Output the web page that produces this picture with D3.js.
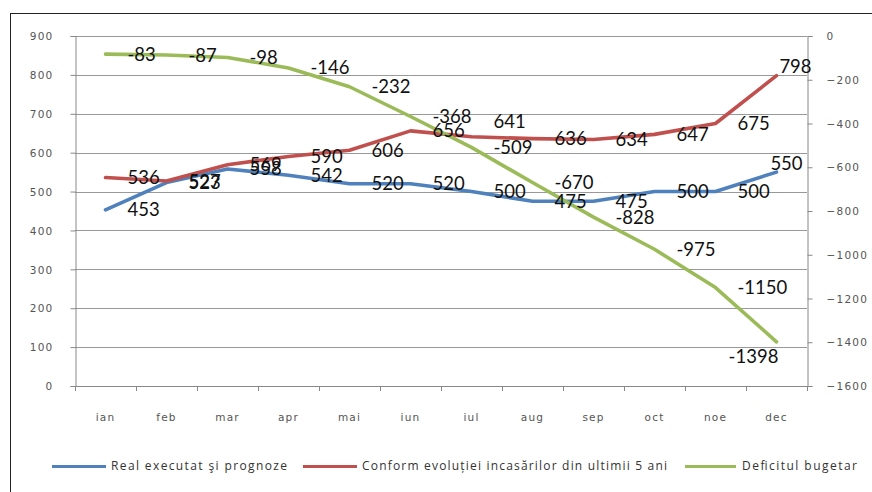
<!DOCTYPE html>
<html><head><meta charset="utf-8">
<script src="https://cdn.jsdelivr.net/npm/d3@7"></script>
<style>
html,body{margin:0;padding:0;background:#fff;}
svg{display:block;}
</style>
</head><body>
<svg id="chart" width="872" height="492"></svg>
<script>
const months = ["ian","feb","mar","apr","mai","iun","iul","aug","sep","oct","noe","dec"];
const realExecutat = [453,523,558,542,520,520,500,475,475,500,500,550];
const conformEvolutiei = [536,527,569,590,606,656,641,636,634,647,675,798];
const deficitBugetar = [-83,-87,-98,-146,-232,-368,-509,-670,-828,-975,-1150,-1398];
const leftTicks = [0,100,200,300,400,500,600,700,800,900];
const rightTicks = [0,-200,-400,-600,-800,-1000,-1200,-1400,-1600];
const seriesNames = ["Real executat şi prognoze","Conform evoluției incasărilor din ultimii 5 ani","Deficitul bugetar"];

const colors = ["#4F81BD","#C0504D","#9BBB59"];
const svg = d3.select("#chart");
const L = 75, R = 807, T = 36, B = 386;

svg.append("rect").attr("width",872).attr("height",492).attr("fill","#fff");
// outer frame
svg.append("line").attr("x1",10).attr("x2",872).attr("y1",13.5).attr("y2",13.5).attr("stroke","#222");
svg.append("line").attr("x1",10.5).attr("x2",10.5).attr("y1",13).attr("y2",492).attr("stroke","#222");

const x = d3.scaleBand().domain(months).range([L,R]).padding(0);
const cx = m => x(m) + x.bandwidth()/2;
const yL = d3.scaleLinear().domain([0,900]).range([B,T]);
const yR = d3.scaleLinear().domain([-1600,0]).range([B,T]);

// gridlines
svg.append("g").selectAll("line").data(leftTicks.filter(d=>d>0)).join("line")
  .attr("x1",L).attr("x2",R).attr("y1",d=>Math.round(yL(d))+0.5).attr("y2",d=>Math.round(yL(d))+0.5)
  .attr("stroke","#999").attr("stroke-width",1);

const tickFont = "DejaVu Sans, Verdana, sans-serif";
// left axis
const gl = svg.append("g").attr("transform",`translate(${L+0.5},0)`)
  .call(d3.axisLeft(yL).tickValues(leftTicks).tickSize(5).tickPadding(17).tickFormat(d3.format("d")));
// right axis
const gr = svg.append("g").attr("transform",`translate(${R+0.5},0)`)
  .call(d3.axisRight(yR).tickValues(rightTicks).tickSize(5).tickPadding(14).tickFormat(d3.format("d")));
// bottom axis
const gb = svg.append("g").attr("transform",`translate(0,${B+0.5})`)
  .call(d3.axisBottom(x).tickSize(0).tickPadding(27));
// boundary ticks for bottom axis
svg.append("g").selectAll("line").data(months.concat(["__end"])).join("line")
  .attr("x1",(d,i)=>Math.round(L + i*x.bandwidth())+0.5).attr("x2",(d,i)=>Math.round(L + i*x.bandwidth())+0.5)
  .attr("y1",B).attr("y2",B+5).attr("stroke","#888");

[gl,gr,gb].forEach(g=>{
  g.attr("font-family",null).attr("font-size",null);
  g.select(".domain").attr("stroke","#888");
  g.selectAll(".tick line").attr("stroke","#888");
  g.selectAll(".tick text").attr("font-family",tickFont).attr("font-size","10.5px")
    .attr("font-weight","normal").attr("fill","#555").attr("letter-spacing","1.2px");
});
gl.selectAll(".tick text").attr("dy","0.35em");
gr.selectAll(".tick text").attr("dy","0.35em");
gb.select(".domain").attr("d",`M${L},0H${R}`);

// lines
const allSeries = [
  {vals: realExecutat, y: yL},
  {vals: conformEvolutiei, y: yL},
  {vals: deficitBugetar, y: yR}
];
allSeries.forEach((s,si)=>{
  const line = d3.line().x((d,i)=>cx(months[i])).y(d=>s.y(d));
  svg.append("path").datum(s.vals).attr("d",line)
    .attr("fill","none").attr("stroke",colors[si]).attr("stroke-width",3.6)
    .attr("stroke-linejoin","round").attr("stroke-linecap","round");
});

// label placement overrides (series index, month index)
const labelOverrides = {
  "0-11": {anchor:"middle", dx:10, dy:-9},
  "1-11": {anchor:"middle", dx:19, dy:-9},
  "2-11": {anchor:"middle", dx:-23, dy:15},
  "1-6":  {anchor:"start", dx:22, dy:-15}
};
allSeries.forEach((s,si)=>{
  svg.append("g").selectAll("text").data(s.vals).join("text")
    .attr("x",(d,i)=>{const o=labelOverrides[si+"-"+i]; return cx(months[i]) + (o?o.dx:22);})
    .attr("y",(d,i)=>{const o=labelOverrides[si+"-"+i]; return s.y(d) + (o?o.dy:0);})
    .attr("dy","0.35em")
    .attr("text-anchor",(d,i)=>{const o=labelOverrides[si+"-"+i]; return o?o.anchor:"start";})
    .attr("font-family","Lato, 'Open Sans', sans-serif").attr("font-size","18.5px").attr("fill","#111")
    .text(d=>d);
});

// legend
const legendItems = [
  {x1:52, x2:106, tx:111, w:176},
  {x1:303, x2:357, tx:362, w:305},
  {x1:685, x2:736, tx:742, w:115}
];
const lg = svg.append("g");
legendItems.forEach((it,i)=>{
  lg.append("line").attr("x1",it.x1).attr("x2",it.x2).attr("y1",466.5).attr("y2",466.5)
    .attr("stroke",colors[i]).attr("stroke-width",3);
  lg.append("text").attr("x",it.tx).attr("y",466).attr("dy","0.35em")
    .attr("font-family","'Open Sans', Lato, sans-serif").attr("font-size","12px").attr("fill","#333")
    .attr("textLength",it.w).attr("lengthAdjust","spacing")
    .text(seriesNames[i]);
});
</script>
</body></html>
